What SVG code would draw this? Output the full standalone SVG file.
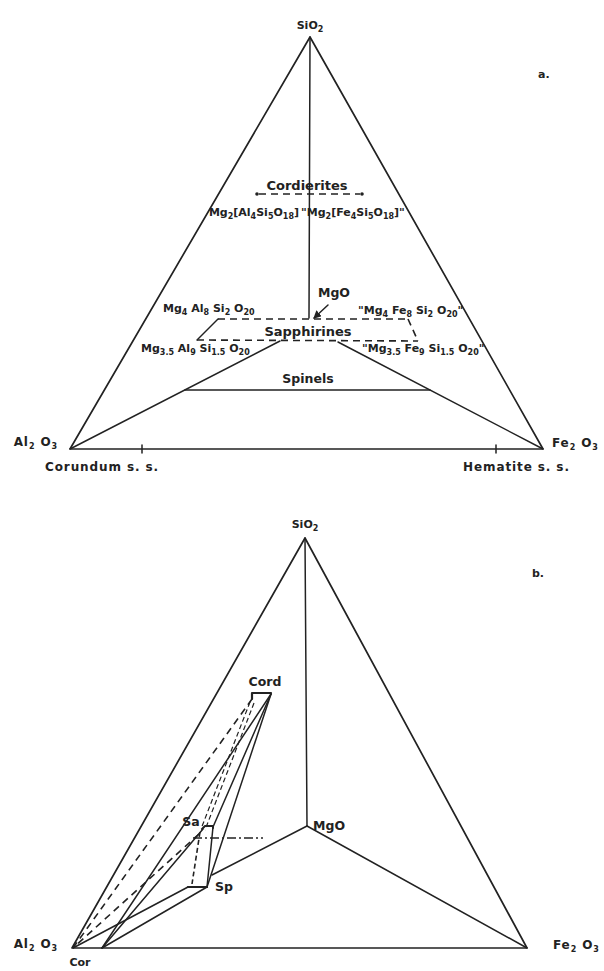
<svg xmlns="http://www.w3.org/2000/svg" width="604" height="971" viewBox="0 0 604 971">
<style>
text{font-family:"DejaVu Sans","Liberation Sans",sans-serif;font-weight:bold;font-size:11px;fill:#222;}
.s{font-size:8px;}
.mid{text-anchor:middle;}
.end{text-anchor:end;}
.lb{font-size:12px;letter-spacing:0.9px;}
.ln{stroke:#222;stroke-width:1.5;fill:none;stroke-linecap:round;stroke-linejoin:round;}
.ed{stroke:#222;stroke-width:1.7;fill:none;stroke-linejoin:round;}
.da{stroke:#222;stroke-width:1.6;fill:none;stroke-dasharray:7 5;}
.dd{stroke:#222;stroke-width:1.3;fill:none;stroke-dasharray:9 3 2 3;}
</style>
<defs>
<marker id="ar" markerWidth="8" markerHeight="8" refX="7" refY="4" orient="auto" markerUnits="userSpaceOnUse">
<path d="M0,0 L8,4 L0,8 z" fill="#222"/>
</marker>
</defs>

<!-- Diagram a -->
<g id="a-frame">
<path class="ed" d="M310,37 L70,449 L543,449 Z"/>
<line class="ln" x1="142" y1="445" x2="142" y2="453"/>
<line class="ln" x1="496" y1="445" x2="496" y2="453"/>
</g>
<g id="a-connectors">
<line class="ln" x1="310" y1="37" x2="309" y2="318"/>
<line class="ln" x1="70" y1="449" x2="280" y2="341"/>
<line class="ln" x1="543" y1="449" x2="338" y2="342"/>
<line class="ln" x1="185" y1="390" x2="430" y2="390"/>
<line class="ln" x1="328" y1="305" x2="314" y2="318" marker-end="url(#ar)"/>
</g>
<g id="a-cordierites">
<line class="da" x1="259" y1="194" x2="360" y2="194"/>
<circle cx="257" cy="194" r="1.8" fill="#222"/>
<circle cx="362" cy="194" r="1.8" fill="#222"/>
<text class="mid" x="307" y="190" style="font-size:13px">Cordierites</text>
<text class="end" x="299" y="216">Mg<tspan class="s" dy="3">2</tspan><tspan dy="-3">[Al</tspan><tspan class="s" dy="3">4</tspan><tspan dy="-3">Si</tspan><tspan class="s" dy="3">5</tspan><tspan dy="-3">O</tspan><tspan class="s" dy="3">18</tspan><tspan dy="-3">]</tspan></text>
<text x="301" y="216">"Mg<tspan class="s" dy="3">2</tspan><tspan dy="-3">[Fe</tspan><tspan class="s" dy="3">4</tspan><tspan dy="-3">Si</tspan><tspan class="s" dy="3">5</tspan><tspan dy="-3">O</tspan><tspan class="s" dy="3">18</tspan><tspan dy="-3">]"</tspan></text>
</g>
<g id="a-sapphirines">
<line class="da" x1="218" y1="319" x2="408" y2="319"/>
<line class="da" x1="408" y1="319" x2="418" y2="341"/>
<line class="da" x1="197" y1="340" x2="418" y2="341"/>
<line class="ln" x1="218" y1="319" x2="197" y2="340"/>
<text class="mid" x="308" y="336" style="font-size:13px">Sapphirines</text>
<text x="163" y="312">Mg<tspan class="s" dy="3">4</tspan><tspan dy="-3"> Al</tspan><tspan class="s" dy="3">8</tspan><tspan dy="-3"> Si</tspan><tspan class="s" dy="3">2</tspan><tspan dy="-3"> O</tspan><tspan class="s" dy="3">20</tspan></text>
<text x="141" y="352">Mg<tspan class="s" dy="3">3.5</tspan><tspan dy="-3"> Al</tspan><tspan class="s" dy="3">9</tspan><tspan dy="-3"> Si</tspan><tspan class="s" dy="3">1.5</tspan><tspan dy="-3"> O</tspan><tspan class="s" dy="3">20</tspan></text>
<text x="358" y="314">"Mg<tspan class="s" dy="3">4</tspan><tspan dy="-3"> Fe</tspan><tspan class="s" dy="3">8</tspan><tspan dy="-3"> Si</tspan><tspan class="s" dy="3">2</tspan><tspan dy="-3"> O</tspan><tspan class="s" dy="3">20</tspan><tspan dy="-3">"</tspan></text>
<text x="362" y="352">"Mg<tspan class="s" dy="3">3.5</tspan><tspan dy="-3"> Fe</tspan><tspan class="s" dy="3">9</tspan><tspan dy="-3"> Si</tspan><tspan class="s" dy="3">1.5</tspan><tspan dy="-3"> O</tspan><tspan class="s" dy="3">20</tspan><tspan dy="-3">"</tspan></text>
</g>
<g id="a-labels">
<text class="mid" x="310" y="29">SiO<tspan class="s" dy="3">2</tspan></text>
<text x="538" y="78">a.</text>
<text class="mid" x="334" y="297" style="font-size:12.5px">MgO</text>
<text class="mid" x="308" y="383" style="font-size:12.5px">Spinels</text>
<text class="end lb" x="58" y="446">Al<tspan class="s" dy="3">2</tspan><tspan dy="-3"> O</tspan><tspan class="s" dy="3">3</tspan></text>
<text class="lb" x="552" y="447">Fe<tspan class="s" dy="3">2</tspan><tspan dy="-3"> O</tspan><tspan class="s" dy="3">3</tspan></text>
<text class="lb" x="45" y="471">Corundum s. s.</text>
<text class="lb" x="463" y="471">Hematite s. s.</text>
</g>

<!-- Diagram b -->
<g id="b-frame">
<path class="ed" d="M305,538 L72,948 L527,948 Z"/>
</g>
<g id="b-connectors">
<line class="ln" x1="305" y1="538" x2="307" y2="826"/>
<line class="ln" x1="307" y1="826" x2="527" y2="948"/>
<line class="ln" x1="307" y1="826" x2="212" y2="875"/>
<!-- Cord ties -->
<line class="ln" x1="271" y1="694" x2="102" y2="948"/>
<line class="ln" x1="271" y1="694" x2="213" y2="827"/>
<line class="ln" x1="271" y1="694" x2="207" y2="887"/>
<line class="da" x1="252" y1="699" x2="73" y2="948"/>
<line class="da" x1="250" y1="702" x2="201" y2="829" style="stroke-width:1.2;stroke-dasharray:5 3"/>
<line class="da" x1="254" y1="703" x2="205" y2="830" style="stroke-width:1.2;stroke-dasharray:5 3"/>
<!-- Sa ties -->
<line class="ln" x1="213" y1="827" x2="207" y2="887"/>
<line class="da" x1="200" y1="832" x2="192" y2="884" style="stroke-dasharray:5 3"/>
<line class="ln" x1="203" y1="829" x2="102" y2="948"/>
<line class="da" x1="199" y1="834" x2="73" y2="948"/>
<line class="dd" x1="193" y1="838" x2="263" y2="838"/>
<!-- Sp ties -->
<line class="ln" x1="207" y1="887" x2="102" y2="948"/>
<line class="ln" x1="188" y1="887" x2="73" y2="948"/>
</g>
<g id="b-cord">
<path class="ln" d="M252,699 L252,693 L271,693" style="stroke-width:2.2"/>
<text class="mid" x="265" y="686" style="font-size:12.5px">Cord</text>
</g>
<g id="b-sa">
<path class="ln" d="M202,829 L205,826 L213,826 L213,828" style="stroke-width:2"/>
<text class="mid" x="191" y="826" style="font-size:12.5px">Sa</text>
</g>
<g id="b-sp">
<path class="ln" d="M188,887 L207,887" style="stroke-width:2.2"/>
<text class="mid" x="224" y="891" style="font-size:12.5px">Sp</text>
</g>
<g id="b-labels">
<text class="mid" x="305" y="528">SiO<tspan class="s" dy="3">2</tspan></text>
<text x="532" y="577">b.</text>
<text x="313" y="830" style="font-size:12.5px">MgO</text>
<text class="end lb" x="58" y="948">Al<tspan class="s" dy="3">2</tspan><tspan dy="-3"> O</tspan><tspan class="s" dy="3">3</tspan></text>
<text class="lb" x="553" y="949">Fe<tspan class="s" dy="3">2</tspan><tspan dy="-3"> O</tspan><tspan class="s" dy="3">3</tspan></text>
<text class="mid" x="80" y="966">Cor</text>
</g>
</svg>
